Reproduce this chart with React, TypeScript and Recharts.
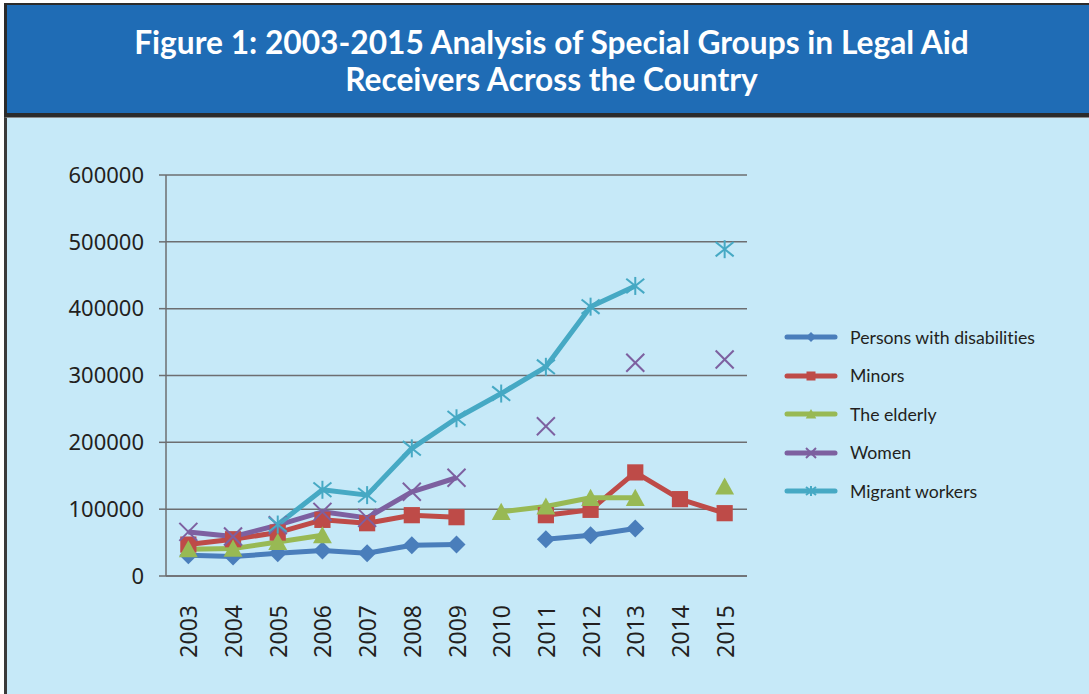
import React from 'react';
import { LineChart, Line, XAxis, YAxis, CartesianGrid } from 'recharts';

const years = [2003, 2004, 2005, 2006, 2007, 2008, 2009, 2010, 2011, 2012, 2013, 2014, 2015];
const disabilities = [31000, 29000, 34000, 38000, 34000, 46000, 47000, null, 55000, 61000, 71000, null, null];
const minors = [47000, 55000, 65000, 84000, 79000, 91000, 88000, null, 91000, 99000, 155000, 115000, 94000];
const elderly = [40000, 41000, 51000, 61000, null, null, null, 96000, 104000, 117000, 117000, null, 134000];
const women = [66000, 59000, 76000, 96000, 87000, 126000, 147000, null, 224000, null, 319000, null, 324000];
const migrant = [null, null, 77000, 129000, 121000, 191000, 236000, 273000, 313000, 403000, 434000, null, 489000];
const yTicks = [0, 100000, 200000, 300000, 400000, 500000, 600000];
const boundaryTicks = [2002.5, 2003.5, 2004.5, 2005.5, 2006.5, 2007.5, 2008.5, 2009.5, 2010.5, 2011.5, 2012.5, 2013.5, 2014.5, 2015.5];

const seriesNames = ['Persons with disabilities', 'Minors', 'The elderly', 'Women', 'Migrant workers'];
const seriesKeys = ['disabilities', 'minors', 'elderly', 'women', 'migrant'];
const colors = ['#4a7ebb', '#be4b48', '#98b954', '#7d60a0', '#46a9c4'];
const shapes = ['diamond', 'square', 'triangle', 'x', 'star'];

const data = years.map((y, i) => ({
  year: y,
  disabilities: disabilities[i],
  minors: minors[i],
  elderly: elderly[i],
  women: women[i],
  migrant: migrant[i],
}));

function Marker({ shape, cx, cy, color, s }: { shape: string; cx: number; cy: number; color: string; s: number }) {
  if (shape === 'diamond') {
    return <polygon points={`${cx},${cy - s} ${cx + s},${cy} ${cx},${cy + s} ${cx - s},${cy}`} fill={color} />;
  }
  if (shape === 'square') {
    const h = s * 0.9;
    return <rect x={cx - h} y={cy - h} width={2 * h} height={2 * h} fill={color} />;
  }
  if (shape === 'triangle') {
    return <polygon points={`${cx},${cy - s} ${cx + s * 1.05},${cy + s * 0.9} ${cx - s * 1.05},${cy + s * 0.9}`} fill={color} />;
  }
  if (shape === 'x') {
    return (
      <g stroke={color} strokeWidth={2}>
        <line x1={cx - s} y1={cy - s} x2={cx + s} y2={cy + s} />
        <line x1={cx - s} y1={cy + s} x2={cx + s} y2={cy - s} />
      </g>
    );
  }
  return (
    <g stroke={color} strokeWidth={2}>
      <line x1={cx - s} y1={cy - s * 0.8} x2={cx + s} y2={cy + s * 0.8} />
      <line x1={cx - s} y1={cy + s * 0.8} x2={cx + s} y2={cy - s * 0.8} />
      <line x1={cx} y1={cy - s} x2={cx} y2={cy + s} />
    </g>
  );
}

const makeDot = (shape: string, color: string) => (props: any) => {
  const { cx, cy, value, index } = props;
  if (value === null || value === undefined || cx == null || cy == null || isNaN(cy)) {
    return <g key={`e-${shape}-${index}`} />;
  }
  return (
    <g key={`d-${shape}-${index}`}>
      <Marker shape={shape} cx={cx} cy={cy} color={color} s={9} />
    </g>
  );
};

const XTick = (props: any) => {
  const { x, y, payload } = props;
  return (
    <text
      x={x}
      y={y}
      transform={`rotate(-90 ${x} ${y})`}
      textAnchor="end"
      dominantBaseline="central"
      fontSize={23}
      fontFamily="Noto Sans"
      fill="#231f20"
    >
      {payload.value}
    </text>
  );
};

export default function App() {
  return (
    <div style={{ position: 'absolute', left: 0, top: 0, width: 1089, height: 694, overflow: 'hidden', background: '#ffffff' }}>
      <div
        style={{
          position: 'absolute', left: 4, top: 3, width: 1100, height: 108,
          background: '#1f6cb5', borderTop: '2px solid #2b2b2b', borderLeft: '3px solid #2b2b2b', borderBottom: '4px solid #2b2b2b',
        }}
      />
      <div
        style={{
          position: 'absolute', left: 0, top: 24, width: 1103, textAlign: 'center', color: '#ffffff',
          fontFamily: 'Lato', fontWeight: 700, fontSize: 31.7, lineHeight: '37px',
        }}
      >
        Figure 1: 2003-2015 Analysis of Special Groups in Legal Aid
        <br />
        Receivers Across the Country
      </div>
      <div
        style={{
          position: 'absolute', left: 4, top: 117, width: 1100, height: 600,
          background: '#c6e9f8', borderLeft: '3px solid #3a3a3a', borderTop: '1px solid #8a8a8a',
        }}
      />
      <div style={{ position: 'absolute', left: 0, top: 0 }}>
        <LineChart width={1089} height={694} data={data} margin={{ top: 175, right: 342, bottom: 38, left: 66 }}>
          <CartesianGrid vertical={false} stroke="#6d6e71" strokeWidth={1.5} />
          <XAxis
            xAxisId="t"
            dataKey="year"
            type="number"
            domain={[2002.5, 2015.5]}
            ticks={boundaryTicks}
            tick={false}
            tickSize={8}
            axisLine={false}
            tickLine={{ stroke: '#6d6e71', strokeWidth: 1.5 }}
            height={0}
          />
          <XAxis
            dataKey="year"
            type="number"
            domain={[2002.5, 2015.5]}
            ticks={years}
            tick={<XTick />}
            tickLine={false}
            tickSize={0}
            tickMargin={29}
            axisLine={{ stroke: '#6d6e71', strokeWidth: 1.5 }}
            height={80}
            interval={0}
          />
          <YAxis
            type="number"
            domain={[0, 600000]}
            ticks={yTicks}
            width={100}
            tickSize={7}
            tickMargin={15}
            interval={0}
            axisLine={{ stroke: '#6d6e71', strokeWidth: 1.5 }}
            tickLine={{ stroke: '#6d6e71', strokeWidth: 1.5 }}
            tick={{ fontSize: 22, fontFamily: 'Noto Sans', fill: '#231f20' }}
          />
          {seriesKeys.map((k, i) => (
            <Line
              key={k}
              dataKey={k}
              name={seriesNames[i]}
              stroke={colors[i]}
              strokeWidth={5}
              strokeLinejoin="round"
              connectNulls={false}
              isAnimationActive={false}
              dot={makeDot(shapes[i], colors[i])}
              activeDot={false}
            />
          ))}
        </LineChart>
      </div>
      <div style={{ position: 'absolute', left: 783, top: 318 }}>
        {seriesNames.map((n, i) => (
          <div key={n} style={{ height: 38.5, display: 'flex', alignItems: 'center' }}>
            <svg width={56} height={20}>
              <line x1={4} y1={10} x2={52} y2={10} stroke={colors[i]} strokeWidth={5} strokeLinecap="round" />
              <Marker shape={shapes[i]} cx={28} cy={10} color={colors[i]} s={5} />
            </svg>
            <span style={{ marginLeft: 11, fontFamily: 'Lato', fontSize: 17.7, color: '#231f20', fontVariantLigatures: 'none' }}>{n}</span>
          </div>
        ))}
      </div>
    </div>
  );
}
